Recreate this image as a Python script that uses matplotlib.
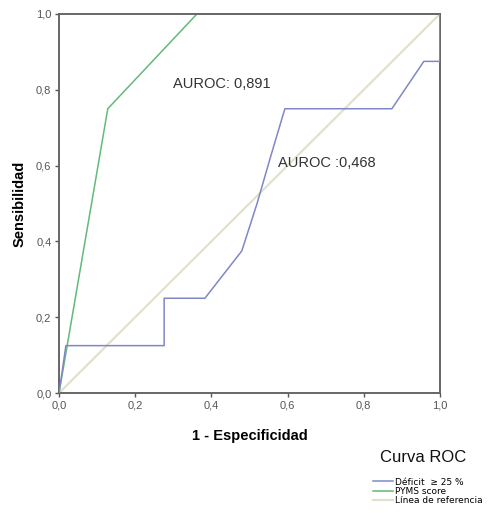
import matplotlib
matplotlib.use("Agg")
import matplotlib.pyplot as plt
from matplotlib.lines import Line2D

plt.rcParams['font.family'] = ['Liberation Sans', 'DejaVu Sans']

# Data
deficit_fpr = [0.0, 0.018, 0.276, 0.276, 0.383, 0.48, 0.52, 0.556, 0.593, 0.874, 0.958, 1.0, 1.0]
deficit_tpr = [0.0, 0.125, 0.125, 0.25, 0.25, 0.375, 0.5, 0.625, 0.75, 0.75, 0.875, 0.875, 1.0]
pyms_fpr = [0.0, 0.128, 0.362, 1.0]
pyms_tpr = [0.0, 0.75, 1.0, 1.0]
ref_x = [0.0, 1.0]
ref_y = [0.0, 1.0]
ticks = [0.0, 0.2, 0.4, 0.6, 0.8, 1.0]
tick_labels = ["0,0", "0,2", "0,4", "0,6", "0,8", "1,0"]
series_names = ["Déficit  ≥ 25 %", "PYMS score", "Línea de referencia"]

c_blue = "#8087c6"
c_green = "#62b97a"
c_ref = "#e4e0cc"

fig = plt.figure(figsize=(4.92, 5.18), dpi=100)
ax = fig.add_axes([0.12, 0.2413, 0.774, 0.7317])
ax.plot(ref_x, ref_y, color=c_ref, lw=1.6, zorder=1)
ax.plot(deficit_fpr, deficit_tpr, color=c_blue, lw=1.1, zorder=3)
ax.plot(pyms_fpr, pyms_tpr, color=c_green, lw=1.1, zorder=2)
ax.set_xlim(0, 1)
ax.set_ylim(0, 1)
ax.set_xticks(ticks)
ax.set_xticklabels(tick_labels)
ax.set_yticks(ticks)
ax.set_yticklabels(tick_labels)
ax.tick_params(axis="both", labelsize=8, colors="#555555", length=3, width=1, pad=2.5)
for s in ax.spines.values():
    s.set_color("#666666")
    s.set_linewidth(1.4)
ax.set_xlabel("1 - Especificidad", fontsize=10.5, fontweight="bold", labelpad=13)
ax.set_ylabel("Sensibilidad", fontsize=10.5, fontweight="bold", labelpad=7)

ax.text(0.3, 0.815, "AUROC: 0,891", fontsize=10.5, color="#333333", va="center")
ax.text(0.575, 0.608, "AUROC :0,468", fontsize=10.5, color="#333333", va="center")

fig.text(0.86, 0.116, "Curva ROC", fontsize=12, ha="center", va="center", color="#111111")
handles = [Line2D([0], [0], color=c_blue, lw=1.1),
           Line2D([0], [0], color=c_green, lw=1.1),
           Line2D([0], [0], color=c_ref, lw=1.6)]
fig.legend(handles, series_names, loc="upper left", bbox_to_anchor=(0.758, 0.078),
           frameon=False, handlelength=2.2, handletextpad=0.25,
           labelspacing=0.05, borderaxespad=0, borderpad=0,
           prop={"family": "DejaVu Sans", "size": 6.5})
fig.savefig("out.png", dpi=100)
